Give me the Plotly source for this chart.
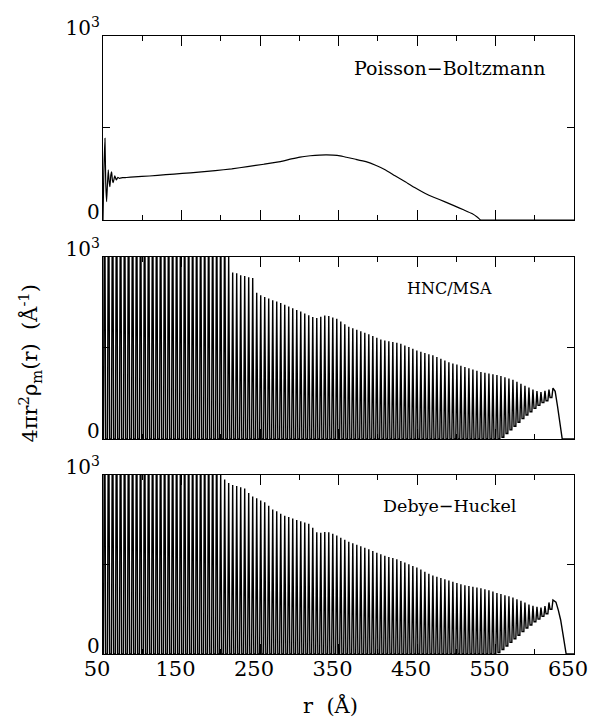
import plotly.graph_objects as go

# ---------------------------------------------------------------------------
# Radial charge-density profiles 4*pi*r^2*rho_m(r) for three theories.
# The ordered profiles (HNC/MSA, Debye-Huckel) are stored as one maximum and
# one following minimum per shell; shells sit RING_SPACING apart from RING_START.
# ---------------------------------------------------------------------------
RING_START = 52.0      # r of the first density maximum (Å)
RING_SPACING = 5.1     # distance between successive maxima (Å)
PEAK_HALF_WIDTH = 1.4  # half width of each density maximum at its base (Å)

# Poisson-Boltzmann: smooth profile
pb_r = [50, 51, 52.5, 53.5, 54.6, 55.6, 56.7, 57.8, 58.8, 60, 61, 62, 63, 65, 67, 69,
        71, 75, 80, 90, 109, 130, 151, 172, 193, 214, 234, 255, 276, 290, 301, 314,
        326, 335, 343, 352, 360, 372, 385, 398, 410, 422, 435, 447, 460, 472, 485,
        497, 510, 520, 527, 531, 540, 650]
pb_val = [0, 250, 444, 200, 100, 190, 272, 210, 181, 245, 261, 215, 203, 240, 218, 232,
          226, 230, 231, 234, 239, 246, 253, 260, 268, 278, 290, 303, 317, 332, 342, 349,
          353, 354, 352, 348, 341, 330, 317, 296, 272, 240, 208, 176, 145, 122, 100,
          78, 54, 35, 15, 0, 0, 0]

# HNC/MSA: height of each shell maximum (the first ones run off the scale)
hnc_peaks = [
    1690, 1678, 1671, 1660, 1652, 1640, 1633, 1621, 1612, 1600,
    1591, 1580, 1569, 1560, 1548, 1537, 1529, 1516, 1507, 1495,
    1484, 1473, 1463, 1450, 1441, 1429, 1418, 1406, 1394, 1381,
    1368, 1004, 915, 910, 900, 895, 888, 884, 803, 790,
    780, 772, 762, 755, 747, 738, 728, 718, 709, 700,
    690, 680, 670, 665, 672, 678, 676, 668, 660, 645,
    630, 617, 608, 600, 592, 584, 576, 566, 556, 547,
    541, 537, 533, 529, 523, 514, 505, 496, 486, 479,
    472, 466, 460, 451, 441, 431, 422, 415, 409, 403,
    395, 389, 382, 375, 368, 364, 360, 356, 352, 346,
    339, 332, 325, 315, 304, 293, 283, 272, 264, 258,
    265, 272, 280,
]
# HNC/MSA: minimum following each maximum
hnc_troughs = [
    0, 0, 0, 0, 0, 0, 0, 0, 0, 0,
    0, 0, 0, 0, 0, 0, 0, 0, 0, 0,
    0, 0, 0, 0, 0, 0, 0, 0, 0, 0,
    0, 0, 0, 0, 0, 0, 0, 0, 0, 0,
    0, 0, 0, 0, 0, 0, 0, 0, 0, 0,
    0, 0, 0, 0, 0, 0, 0, 0, 0, 0,
    0, 0, 0, 0, 0, 0, 0, 0, 0, 0,
    0, 0, 0, 0, 0, 0, 0, 0, 0, 0,
    0, 0, 0, 0, 0, 0, 0, 0, 0, 0,
    0, 0, 0, 0, 0, 0, 0, 0, 0, 10,
    30, 50, 70, 92, 112, 132, 150, 168, 185, 200,
    210, 228,
]
hnc_tail_r = [626, 629, 632, 635, 650]
hnc_tail_val = [262, 180, 80, 0, 0]

# Debye-Huckel: height of each shell maximum (the first ones run off the scale)
dh_peaks = [
    1702, 1694, 1683, 1675, 1664, 1655, 1644, 1636, 1624, 1615,
    1604, 1596, 1584, 1575, 1563, 1554, 1543, 1533, 1522, 1512,
    1500, 1491, 1480, 1469, 1459, 1447, 1436, 1425, 1413, 1016,
    975, 955, 944, 938, 932, 925, 900, 880, 870, 858,
    848, 828, 808, 797, 783, 772, 765, 757, 749, 742,
    735, 728, 705, 680, 678, 682, 680, 672, 662, 650,
    638, 627, 619, 611, 602, 594, 585, 576, 566, 557,
    549, 542, 536, 529, 520, 511, 502, 492, 483, 472,
    460, 449, 439, 432, 425, 418, 411, 404, 397, 390,
    384, 380, 376, 372, 368, 362, 356, 349, 341, 335,
    328, 322, 315, 306, 297, 287, 277, 270, 264, 259,
    268, 288, 302,
]
# Debye-Huckel: minimum following each maximum
dh_troughs = [
    0, 0, 0, 0, 0, 0, 0, 0, 0, 0,
    0, 0, 0, 0, 0, 0, 0, 0, 0, 0,
    0, 0, 0, 0, 0, 0, 0, 0, 0, 0,
    0, 0, 0, 0, 0, 0, 0, 0, 0, 0,
    0, 0, 0, 0, 0, 0, 0, 0, 0, 0,
    0, 0, 0, 0, 0, 0, 0, 0, 0, 0,
    0, 0, 0, 0, 0, 0, 0, 0, 0, 0,
    0, 0, 0, 0, 0, 0, 0, 0, 0, 0,
    0, 0, 0, 0, 0, 0, 0, 0, 0, 0,
    0, 0, 0, 0, 0, 0, 0, 0, 8, 25,
    45, 65, 85, 105, 125, 145, 162, 180, 195, 210,
    225, 250,
]
dh_tail_r = [627, 630, 633, 636, 640, 650]
dh_tail_val = [290, 245, 190, 110, 0, 0]

x_tick_vals = [50, 150, 250, 350, 450, 550, 650]
x_tick_text = ["50", "150", "250", "350", "450", "550", "650"]
x_minor_vals = [100, 200, 300, 400, 500, 600]
y_tick_vals = [0, 500, 1000]
y_tick_text = ["0", "", "10<sup>3</sup>"]

panel_labels = ["Poisson\u2212Boltzmann", "HNC/MSA", "Debye\u2212Huckel"]
panel_label_sizes = [19, 16, 17.5]


def shell_profile(peaks, troughs, tail_r, tail_val):
    """Polyline through every shell maximum and the minimum that follows it."""
    xs, ys = [50.0], [0.0]
    prev = 0.0
    for k, peak in enumerate(peaks):
        rk = RING_START + k * RING_SPACING
        xs += [rk - PEAK_HALF_WIDTH, rk]
        ys += [prev, peak]
        if k < len(troughs):
            xs.append(rk + PEAK_HALF_WIDTH)
            ys.append(troughs[k])
            prev = troughs[k]
    xs += list(tail_r)
    ys += list(tail_val)
    return xs, ys


SERIF = "DejaVu Serif"
fig = go.Figure()

fig.add_trace(go.Scatter(x=pb_r, y=pb_val, mode="lines",
                         line=dict(color="black", width=1.2, shape="spline", smoothing=0.4),
                         xaxis="x3", yaxis="y3", showlegend=False))
shell_line = dict(color="black", width=1.4)
hx, hy = shell_profile(hnc_peaks, hnc_troughs, hnc_tail_r, hnc_tail_val)
fig.add_trace(go.Scatter(x=hx, y=hy, mode="lines", line=shell_line,
                         xaxis="x2", yaxis="y2", showlegend=False))
dx, dy = shell_profile(dh_peaks, dh_troughs, dh_tail_r, dh_tail_val)
fig.add_trace(go.Scatter(x=dx, y=dy, mode="lines", line=shell_line,
                         xaxis="x", yaxis="y", showlegend=False))

domains = {"": [0.0, 0.2896], "2": [0.3479, 0.6424], "3": [0.7023, 1.0]}
layout = {}
for suffix, dom in domains.items():
    layout["xaxis" + suffix] = dict(
        domain=[0, 1], anchor="y" + suffix, range=[50, 650],
        showline=True, linecolor="black", linewidth=1.4, mirror="ticks",
        ticks="inside", ticklen=10, tickwidth=1.1, tickcolor="black",
        tickmode="array", tickvals=x_tick_vals, ticktext=x_tick_text,
        minor=dict(tickmode="array", tickvals=x_minor_vals, ticks="inside",
                   ticklen=5, tickwidth=1.1, tickcolor="black"),
        showgrid=False, zeroline=False,
        showticklabels=(suffix == ""),
        tickfont=dict(family=SERIF, size=21, color="black"),
        ticklabelshift=-6, ticklabelstandoff=-4,
    )
    layout["yaxis" + suffix] = dict(
        domain=dom, anchor="x" + suffix, range=[0, 1000],
        showline=True, linecolor="black", linewidth=1.4, mirror="ticks",
        ticks="inside", ticklen=7, tickwidth=1.1, tickcolor="black",
        tickmode="array", tickvals=y_tick_vals, ticktext=y_tick_text,
        showgrid=False, zeroline=False,
        tickfont=dict(family=SERIF, size=20, color="black"),
        ticklabelshift=-8, ticklabelstandoff=-2,
    )

annotations = []
for label, size, suffix in zip(panel_labels, panel_label_sizes, ["3", "2", ""]):
    annotations.append(dict(
        text=label, x=492, y=825, xref="x" + suffix, yref="y" + suffix,
        xanchor="center", yanchor="middle", showarrow=False,
        font=dict(family=SERIF, size=size, color="black")))
annotations.append(dict(
    text="r\u00a0 (Å)", x=0.483, y=-0.083, xref="paper", yref="paper",
    xanchor="center", yanchor="middle", showarrow=False,
    font=dict(family=SERIF, size=21, color="black")))
annotations.append(dict(
    text="4πr<sup>2</sup>ρ<sub>m</sub>(r)\u00a0 (Å<sup>-1</sup>)",
    x=-0.157, y=0.47, xref="paper", yref="paper", textangle=-90,
    xanchor="center", yanchor="middle", showarrow=False,
    font=dict(family=SERIF, size=21, color="black")))

fig.update_layout(
    width=600, height=719,
    margin=dict(l=103, r=19, t=36, b=65),
    paper_bgcolor="white", plot_bgcolor="white",
    annotations=annotations,
    **layout,
)

fig.write_html("out.html")
